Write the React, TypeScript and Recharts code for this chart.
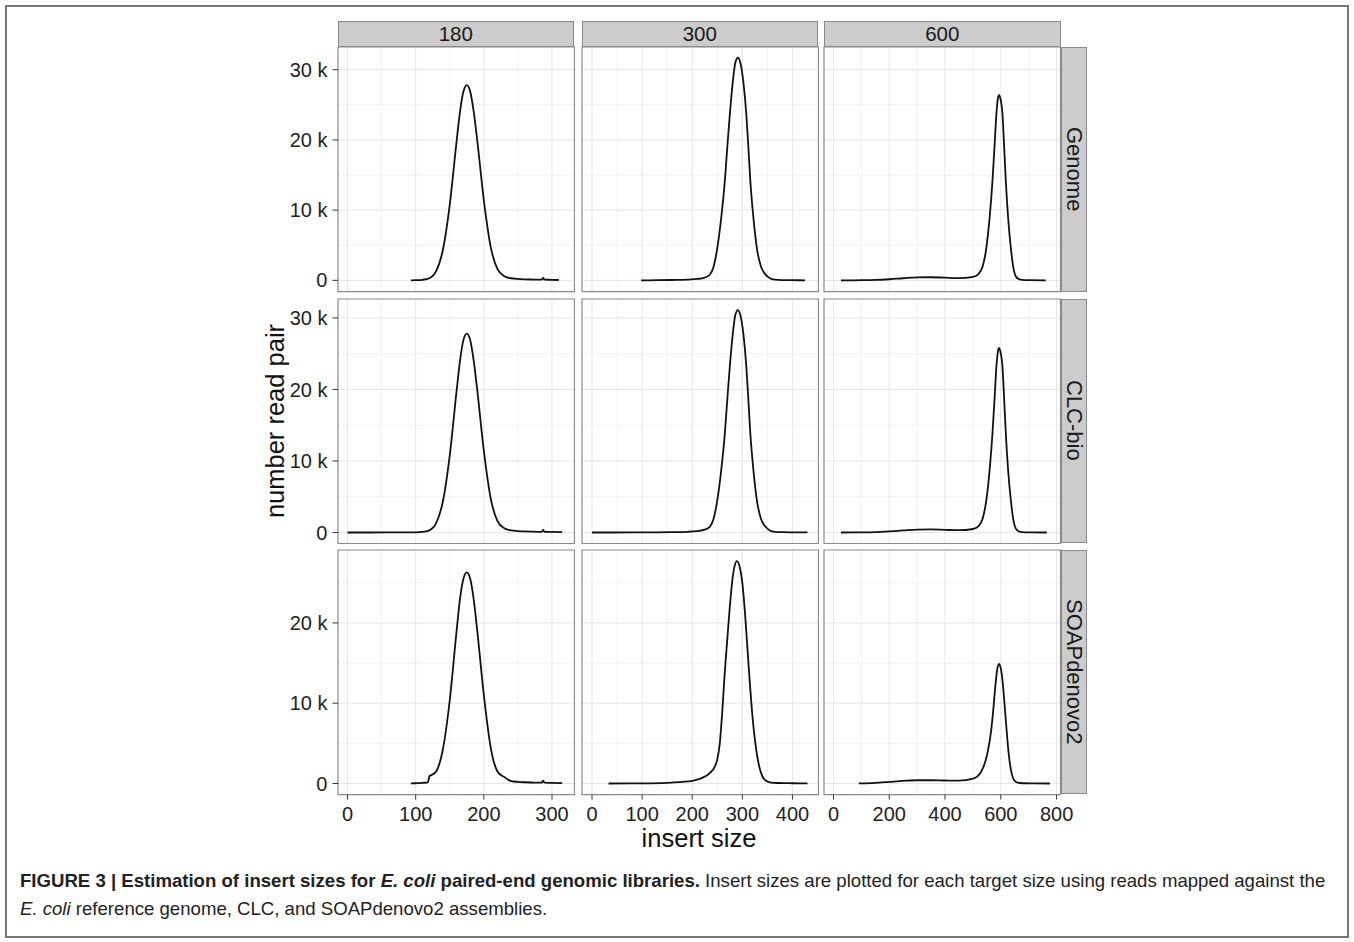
import React from 'react';
import { LineChart, Line, XAxis, YAxis, CartesianGrid, ReferenceArea } from 'recharts';

// facet labels
const targetSizes = ['180', '300', '600'];
const sources = ['Genome', 'CLC-bio', 'SOAPdenovo2'];

// tick values
const xTicksByCol = [
    [0, 100, 200, 300],
    [0, 100, 200, 300, 400],
    [0, 200, 400, 600, 800],
];
const xMinorByCol = [
    [50, 150, 250],
    [50, 150, 250, 350],
    [100, 300, 500, 700],
];
const yTicksByRow = [
    [0, 10000, 20000, 30000],
    [0, 10000, 20000, 30000],
    [0, 10000, 20000],
];
const yMinorByRow = [
    [5000, 15000, 25000],
    [5000, 15000, 25000],
    [5000, 15000, 25000],
];
const xDomains = [[-14, 333], [-20, 452], [-34, 814]];
const yDomains = [[-1600, 33230], [-1550, 32650], [-1385, 29085]];

// insert size (x) and number of read pairs (y)
const genome180X = [93, 100, 110, 120, 130, 140, 150, 160, 165, 170, 175, 180, 185, 190, 200, 210, 220, 230, 240, 250, 260, 270, 280, 285, 287, 289, 300, 310];
const genome180Y = [0, 20, 80, 300, 1300, 4400, 10800, 19800, 24000, 26900, 27800, 26900, 24100, 20200, 11400, 4800, 1600, 600, 300, 200, 150, 120, 100, 100, 350, 100, 80, 50];

const clc180X = [0, 30, 60, 90, 100, 110, 120, 130, 140, 150, 160, 165, 170, 175, 180, 185, 190, 200, 210, 220, 230, 240, 250, 260, 270, 280, 285, 287, 289, 300, 315];
const clc180Y = [0, 0, 10, 20, 30, 80, 300, 1300, 4400, 10800, 19800, 24000, 26900, 27800, 26900, 24100, 20200, 11400, 4800, 1600, 600, 300, 200, 150, 120, 100, 100, 350, 100, 80, 50];

const soap180X = [93, 100, 110, 118, 120, 122, 130, 140, 150, 160, 165, 170, 175, 180, 185, 190, 200, 210, 220, 230, 240, 250, 260, 270, 280, 285, 287, 289, 300, 315];
const soap180Y = [0, 30, 80, 150, 900, 1000, 1500, 4300, 10400, 19000, 23000, 25500, 26300, 25500, 23000, 19300, 11000, 4500, 1500, 800, 300, 200, 150, 120, 100, 100, 350, 100, 80, 50];

const genome300X = [98, 130, 160, 190, 210, 225, 235, 242, 250, 258, 265, 270, 275, 281, 286, 291, 296, 302, 308, 312, 316, 322, 329, 337, 346, 355, 365, 380, 400, 425];
const genome300Y = [0, 20, 50, 100, 200, 400, 800, 1800, 4600, 9000, 14100, 19000, 23600, 28300, 31000, 31700, 31000, 28300, 23600, 19000, 14100, 9000, 4600, 2000, 850, 300, 100, 40, 20, 10];

const clc300X = [0, 40, 80, 130, 160, 190, 210, 225, 235, 242, 250, 258, 265, 270, 275, 281, 286, 291, 296, 302, 308, 312, 316, 322, 329, 337, 346, 355, 365, 380, 400, 430];
const clc300Y = [0, 0, 10, 20, 50, 100, 200, 390, 780, 1770, 4500, 8800, 13800, 18600, 23200, 27800, 30400, 31100, 30400, 27800, 23200, 18600, 13800, 8800, 4500, 1960, 830, 290, 100, 40, 20, 10];

const soap300X = [33, 100, 150, 180, 200, 220, 235, 245, 250, 255, 260, 265, 270, 275, 280, 285, 289, 295, 300, 305, 310, 315, 320, 325, 330, 335, 340, 345, 355, 370, 400, 430];
const soap300Y = [0, 20, 80, 200, 330, 700, 1300, 2100, 3000, 5000, 9000, 13900, 18000, 22000, 25300, 27200, 27700, 26900, 25000, 21500, 17000, 12500, 8500, 5500, 3300, 1800, 900, 450, 150, 60, 30, 20];

const genome600X = [27, 100, 150, 200, 250, 300, 350, 400, 450, 500, 520, 535, 548, 560, 570, 578, 584, 590, 594, 598, 606, 612, 618, 627, 636, 645, 655, 670, 700, 761];
const genome600Y = [0, 20, 60, 160, 300, 420, 440, 380, 330, 500, 900, 2000, 4600, 9000, 14100, 19500, 23600, 26000, 26400, 26000, 23600, 19000, 14100, 8500, 4600, 1800, 500, 100, 20, 0];

const clc600X = [27, 100, 150, 200, 250, 300, 350, 400, 450, 500, 520, 535, 548, 560, 570, 578, 584, 590, 594, 598, 606, 612, 618, 627, 636, 645, 655, 670, 700, 765];
const clc600Y = [0, 20, 60, 160, 290, 410, 430, 370, 320, 490, 880, 1950, 4500, 8800, 13800, 19000, 23100, 25400, 25800, 25400, 23100, 18600, 13800, 8300, 4500, 1760, 490, 100, 20, 0];

const soap600X = [91, 150, 200, 250, 300, 350, 400, 450, 500, 530, 545, 555, 565, 572, 580, 587, 594, 600, 607, 613, 620, 626, 632, 640, 648, 660, 680, 720, 776];
const soap600Y = [0, 80, 200, 320, 400, 400, 370, 350, 600, 1500, 2800, 4300, 6500, 8800, 12000, 14200, 14900, 14300, 12500, 10000, 7000, 4500, 2600, 1100, 400, 100, 30, 10, 0];

// rows = source, cols = target size
const panelSeries = [
    [[genome180X, genome180Y], [genome300X, genome300Y], [genome600X, genome600Y]],
    [[clc180X, clc180Y], [clc300X, clc300Y], [clc600X, clc600Y]],
    [[soap180X, soap180Y], [soap300X, soap300Y], [soap600X, soap600Y]],
];

// layout
const colLeft = [337.5, 581.5, 824];
const rowTop = [47.3, 298.5, 549.7];
const panelW = 236.5;
const panelH = 244.6;
const yAxisW = 70;
const xAxisH = 40;
const stripSize = 26;

const FONT = '"Liberation Sans", Arial, Helvetica, sans-serif';
const tickStyle = { fontSize: 20, fill: '#222', fontFamily: FONT };

const fmtCount = (v: number) => (v === 0 ? '0' : `${v / 1000} k`);

const Panel = ({ row, col }: { row: number; col: number }) => {
    const [xs, ys] = panelSeries[row][col];
    const data = xs.map((x, i) => ({ x, y: ys[i] }));
    const showY = col === 0;
    const showX = row === 2;
    const extraRight = showX && col === 2 ? 24 : 0;
    const w = panelW + (showY ? yAxisW : 0) + 2 + extraRight;
    const h = panelH + (showX ? xAxisH : 0) + 2;
    const xd = xDomains[col];
    const yd = yDomains[row];
    return (
        <div style={{ position: 'absolute', left: colLeft[col] - (showY ? yAxisW : 0) - 1, top: rowTop[row] - 1 }}>
            <LineChart width={w} height={h} data={data} margin={{ top: 1, right: 1 + extraRight, bottom: 1, left: 1 }}>
                <CartesianGrid stroke="#f3f3f3" strokeWidth={1} horizontalValues={yMinorByRow[row]} verticalValues={xMinorByCol[col]} />
                <CartesianGrid stroke="#e6e6e6" strokeWidth={1} horizontalValues={yTicksByRow[row]} verticalValues={xTicksByCol[col]} />
                <XAxis
                    type="number"
                    dataKey="x"
                    domain={xd}
                    ticks={xTicksByCol[col]}
                    allowDataOverflow
                    hide={!showX}
                    height={xAxisH}
                    axisLine={false}
                    tickLine={{ stroke: '#333' }}
                    tickSize={5}
                    tickMargin={7}
                    tick={tickStyle}
                    interval={0}
                />
                <YAxis
                    type="number"
                    domain={yd}
                    ticks={yTicksByRow[row]}
                    allowDataOverflow
                    hide={!showY}
                    width={yAxisW}
                    axisLine={false}
                    tickLine={{ stroke: '#333' }}
                    tickSize={5.5}
                    tickMargin={5}
                    tick={tickStyle}
                    tickFormatter={fmtCount}
                    interval={0}
                />
                <ReferenceArea x1={xd[0]} x2={xd[1]} y1={yd[0]} y2={yd[1]} fill="none" stroke="#8a8a8a" strokeWidth={1.2} ifOverflow="visible" />
                <Line type="monotone" dataKey="y" stroke="#111" strokeWidth={1.8} dot={false} isAnimationActive={false} />
            </LineChart>
        </div>
    );
};

const stripBase: React.CSSProperties = {
    position: 'absolute',
    background: '#cccccc',
    border: '1px solid #8a8a8a',
    boxSizing: 'border-box',
    display: 'flex',
    alignItems: 'center',
    justifyContent: 'center',
    fontFamily: FONT,
    fontSize: 20.5,
    color: '#1a1a1a',
    lineHeight: 1,
};

export default function App() {
    const gridBottom = rowTop[2] + panelH;
    const gridRight = colLeft[2] + panelW;
    return (
        <div style={{ position: 'absolute', left: 0, top: 0, width: 1354, height: 942, background: '#fff', overflow: 'hidden' }}>
            <div style={{ position: 'absolute', left: 5, top: 5, width: 1344, height: 933, border: '2px solid #777', boxSizing: 'border-box' }} />

            {targetSizes.map((t, c) => (
                <div key={t} style={{ ...stripBase, left: colLeft[c], top: rowTop[0] - stripSize, width: panelW, height: stripSize }}>
                    {t}
                </div>
            ))}
            {sources.map((s, r) => (
                <div key={s} style={{ ...stripBase, left: gridRight, top: rowTop[r], width: stripSize, height: panelH, fontSize: 22 }}>
                    <span style={{ writingMode: 'vertical-rl' }}>{s}</span>
                </div>
            ))}

            {[0, 1, 2].map((r) => [0, 1, 2].map((c) => <Panel key={`${r}-${c}`} row={r} col={c} />))}

            <div
                style={{
                    position: 'absolute',
                    left: 276,
                    top: (rowTop[0] + gridBottom) / 2,
                    transform: 'translate(-50%, -50%) rotate(-90deg)',
                    fontFamily: FONT,
                    fontSize: 25.5,
                    color: '#111',
                    whiteSpace: 'nowrap',
                    lineHeight: 1,
                }}
            >
                number read pair
            </div>
            <div
                style={{
                    position: 'absolute',
                    left: (colLeft[0] + gridRight) / 2,
                    top: 839,
                    transform: 'translate(-50%, -50%)',
                    fontFamily: FONT,
                    fontSize: 25.5,
                    color: '#111',
                    whiteSpace: 'nowrap',
                    lineHeight: 1,
                }}
            >
                insert size
            </div>

            <div
                style={{
                    position: 'absolute',
                    left: 20,
                    top: 867,
                    fontFamily: FONT,
                    fontSize: 18.6,
                    lineHeight: '28px',
                    color: '#222',
                    whiteSpace: 'nowrap',
                }}
            >
                <b>
                    FIGURE 3 | Estimation of insert sizes for <i>E. coli</i> paired-end genomic libraries.
                </b>{' '}
                Insert sizes are plotted for each target size using reads mapped against the
                <br />
                <i>E. coli</i> reference genome, CLC, and SOAPdenovo2 assemblies.
            </div>
        </div>
    );
}
